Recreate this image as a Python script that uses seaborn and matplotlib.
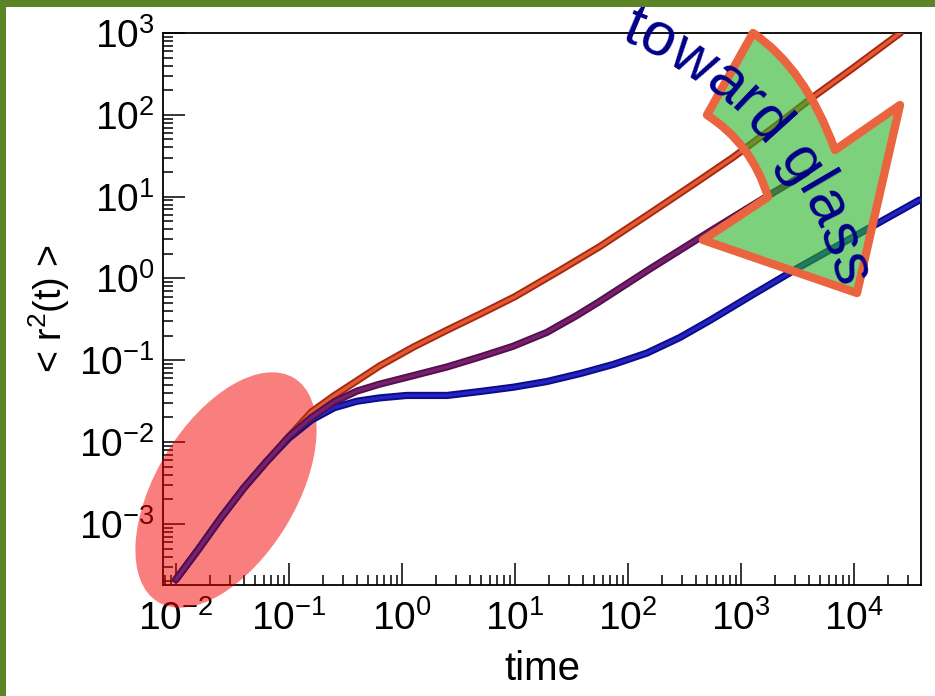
import numpy as np
import pandas as pd
import matplotlib
matplotlib.use("Agg")
import matplotlib.pyplot as plt
import seaborn as sns
import matplotlib.patheffects as pe
from matplotlib.patches import Ellipse, PathPatch, Rectangle
from matplotlib.path import Path
from matplotlib.transforms import IdentityTransform
from matplotlib.ticker import LogLocator, NullFormatter
from matplotlib.font_manager import FontProperties, findfont, get_font

# ---------------- data ----------------
t_high = [0.01, 0.0158, 0.0251, 0.0398, 0.0631, 0.1, 0.158, 0.251, 0.398, 0.631,
          1.26, 2.51, 5.01, 10.0, 25.1, 56.2, 158, 398, 851, 2000, 4370, 10000, 25700]
msd_high = [2.1e-4, 4.9e-4, 1.2e-3, 2.75e-3, 5.75e-3, 1.17e-2, 2.34e-2, 3.7e-2, 5.6e-2, 8.5e-2,
            0.145, 0.234, 0.372, 0.60, 1.26, 2.45, 6.3, 14.8, 30.2, 72.4, 166, 380, 1000]

t_mid = [0.01, 0.0158, 0.0251, 0.0398, 0.0631, 0.1, 0.158, 0.251, 0.398, 0.631,
         1.26, 2.51, 4.9, 9.55, 19.1, 35.5, 56.2, 158, 537, 1585, 3800]
msd_mid = [2.1e-4, 4.9e-4, 1.2e-3, 2.75e-3, 5.75e-3, 1.17e-2, 2.0e-2, 3.1e-2, 4.2e-2, 5.1e-2,
           6.5e-2, 8.3e-2, 0.11, 0.148, 0.219, 0.355, 0.525, 1.32, 3.8, 9.5, 19.5]

t_low = [0.01, 0.0158, 0.0251, 0.0398, 0.0631, 0.1, 0.158, 0.251, 0.398, 0.631,
         1.1, 2.51, 5.01, 9.55, 19.1, 38.0, 74.1, 148, 288, 537, 1260, 3300, 11200, 38000]
msd_low = [2.1e-4, 4.9e-4, 1.2e-3, 2.75e-3, 5.75e-3, 1.12e-2, 1.86e-2, 2.63e-2, 3.16e-2, 3.47e-2,
           3.72e-2, 3.72e-2, 4.17e-2, 4.68e-2, 5.5e-2, 6.9e-2, 8.9e-2, 0.123, 0.19, 0.31,
           0.63, 1.38, 3.55, 9.1]

x_ticks = [1e-2, 1e-1, 1e0, 1e1, 1e2, 1e3, 1e4]
y_ticks = [1e-3, 1e-2, 1e-1, 1e0, 1e1, 1e2, 1e3]
x_label = "time"
y_label = "< r$^{2}$(t) >"
annotation = "toward glass"

series_order = ["high T", "low T", "intermediate T"]
palette = {"high T": "#e25a34", "low T": "#2424c2", "intermediate T": "#782070"}
edge_cols = {"high T": "#a82810", "low T": "#0c0c88", "intermediate T": "#55104c"}

df = pd.concat([
    pd.DataFrame({"time": t_high, "msd": msd_high, "series": "high T"}),
    pd.DataFrame({"time": t_low, "msd": msd_low, "series": "low T"}),
    pd.DataFrame({"time": t_mid, "msd": msd_mid, "series": "intermediate T"}),
], ignore_index=True)

# ---------------- style ----------------
sns.set_theme(style="ticks")
plt.rcParams["font.family"] = ["Liberation Sans", "DejaVu Sans"]
plt.rcParams["mathtext.fontset"] = "custom"
plt.rcParams["mathtext.rm"] = "Liberation Sans"
plt.rcParams["mathtext.it"] = "Liberation Sans:italic"
plt.rcParams["mathtext.bf"] = "Liberation Sans:bold"
plt.rcParams["axes.unicode_minus"] = False

W, H = 935, 696
fig = plt.figure(figsize=(W / 100, H / 100), dpi=100)
fig.patch.set_facecolor("white")
ax = fig.add_axes([163 / W, 1 - 585 / H, (921 - 163) / W, (585 - 33) / H])
ax.set_facecolor("white")
ax.set_xscale("log")
ax.set_yscale("log")

sns.lineplot(data=df, x="time", y="msd", hue="series", hue_order=series_order,
             palette=palette, estimator=None, sort=False, legend=False,
             linewidth=2.4, ax=ax, zorder=3)
for line, name in zip(ax.lines, series_order):
    line.set_path_effects([pe.Stroke(linewidth=5.2, foreground=edge_cols[name]), pe.Normal()])
    line.set_solid_capstyle("round")

ax.xaxis.set_major_locator(LogLocator(base=10, numticks=20))
ax.yaxis.set_major_locator(LogLocator(base=10, numticks=20))
ax.xaxis.set_minor_locator(LogLocator(base=10, subs=np.arange(2, 10), numticks=200))
ax.yaxis.set_minor_locator(LogLocator(base=10, subs=np.arange(2, 10), numticks=200))
ax.xaxis.set_minor_formatter(NullFormatter())
ax.yaxis.set_minor_formatter(NullFormatter())
ax.set_xticks(x_ticks)
ax.set_yticks(y_ticks)
ax.set_xlim(10 ** -2.115, 10 ** 4.593)
ax.set_ylim(10 ** -3.746, 1e3)

ax.tick_params(which="both", direction="in", top=False, right=False, color="black",
               width=1.1)
ax.tick_params(which="major", length=16, labelsize=28, colors="black")
ax.tick_params(axis="x", which="major", pad=11)
ax.tick_params(axis="y", which="major", pad=6)
ax.tick_params(which="minor", length=7.5)
for s in ax.spines.values():
    s.set_visible(True)
    s.set_color("black")
    s.set_linewidth(1.3)

ax.set_xlabel(x_label, fontsize=29, color="black")
ax.set_ylabel(y_label, fontsize=27, color="black")
ax.xaxis.set_label_coords(0.5, -0.118)
ax.yaxis.set_label_coords(-0.12, 0.5)

# ---------------- decorations ----------------
ident = IdentityTransform()

# red highlight ellipse in the short-time (ballistic) region
ell = Ellipse((226, H - 490), width=262, height=140, angle=58.7,
              facecolor=(0.96, 0.0, 0.0, 0.5), edgecolor="none",
              transform=ident, zorder=2.7, clip_on=False)
ax.add_patch(ell)

# curved block arrow
def P(x, y):
    return (x, H - y)

verts = [P(753, 33), P(707, 115), P(752, 144), P(768, 197), P(703, 240),
         P(857, 293), P(900, 105), P(835, 150), P(805, 68), P(753, 33), P(753, 33)]
codes = [Path.MOVETO, Path.LINETO, Path.CURVE3, Path.CURVE3, Path.LINETO,
         Path.LINETO, Path.LINETO, Path.LINETO, Path.CURVE3, Path.CURVE3, Path.CLOSEPOLY]
arrow = PathPatch(Path(verts, codes), facecolor=(0.15, 0.70, 0.15, 0.6),
                  edgecolor="#eb6440", linewidth=6, joinstyle="round",
                  transform=ident, zorder=4, clip_on=False)
ax.add_patch(arrow)

# "toward glass" along an arc
fsize = 44
fp = FontProperties(family="Liberation Sans", size=fsize)
font = get_font(findfont(fp))
font.set_size(fsize, 100)
advs = []
for ch in annotation:
    g = font.load_char(ord(ch))
    advs.append(g.linearHoriAdvance / 65536)
L = sum(advs)
cx, cy = 487, H - 376
Rb = 361
theta_m = np.deg2rad(41.3)
cum = 0.0
for ch, a in zip(annotation, advs):
    s = cum + a / 2 - L / 2
    th = theta_m - s / Rb
    x = cx + Rb * np.cos(th)
    y = cy + Rb * np.sin(th)
    fig.text(x, y, ch, transform=ident, ha="center", va="baseline",
             rotation=np.rad2deg(th) - 90, rotation_mode="anchor",
             fontproperties=fp, color="#000088", zorder=6)
    cum += a

# green frame strips
fig.patches.append(Rectangle((0, H - 7), W, 7, transform=ident, facecolor="#5b8426",
                             edgecolor="none", zorder=10))
fig.patches.append(Rectangle((0, 0), 6, H, transform=ident, facecolor="#5b8426",
                             edgecolor="none", zorder=10))

fig.savefig("out.png", dpi=100)
